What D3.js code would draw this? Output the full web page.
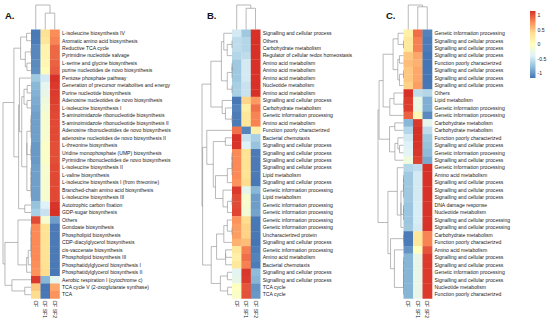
<!DOCTYPE html>
<html><head><meta charset="utf-8">
<script src="https://cdn.jsdelivr.net/npm/d3@7"></script>
<style>body{margin:0;background:#fff}svg{display:block}text{font-family:"Liberation Sans",Arial,sans-serif}</style>
</head><body><svg id="c" width="550" height="322"></svg>
<script>
const colNames = ["CF","CF SF1","CF SF2"];

const aLabels = ["L-isoleucine biosynthesis IV","Aromatic amino acid biosynthesis","Reductive TCA cycle","Pyrimidine nucleotide salvage","L-serine and glycine biosynthesis","purine nucleotides de novo biosynthesis","Pentose phosphate pathway","Generation of precursor metabolites and energy","Purine nucleotide biosynthesis","Adenosine nucleotides de novo biosynthesis","L-isoleucine biosynthesis I","5-aminoimidazole ribonucleotide biosynthesis","5-aminoimidazole ribonucleotide biosynthesis II","Adenosine ribonucleotides de novo biosynthesis","adenosine nucleotides de novo biosynthesis II","L-threonine biosynthesis","Uridine monophosphate (UMP) biosynthesis","Pyrimidine ribonucleotides de novo biosynthesis","L-isoleucine biosynthesis II","L-valine biosynthesis","L-isoleucine biosynthesis I (from threonine)","Branched-chain amino acid biosynthesis","L-isoleucine biosynthesis III","Autotrophic carbon fixation","GDP-sugar biosynthesis","Others","Gondoate biosynthesis","Phospholipid biosynthesis","CDP-diacylglycerol biosynthesis","cis-vaccenate biosynthesis","Phospholipid biosynthesis III","Phosphatidylglycerol biosynthesis I","Phosphatidylglycerol biosynthesis II","Aerobic respiration I (cytochrome c)","TCA cycle V (2-oxoglutarate synthase)","TCA"];
const aCF  = [-1.1,-1.1,-1.12,-1.12,-1.1,-1.08,-0.7,-0.78,-0.8,-0.85,-0.88,-0.95,-0.95,-0.95,-0.95,-1.0,-1.0,-1.0,-0.95,-0.95,-0.95,-0.95,-0.95,-0.75,-0.65,1.05,0.8,0.8,0.8,0.8,0.8,0.78,0.75,1.1,0.5,0.4];
const aSF1 = [0.35,0.3,0.15,0.15,0.1,0.05,-0.45,-0.3,-0.25,-0.2,-0.15,-0.1,-0.1,-0.1,-0.1,-0.05,-0.05,-0.05,-0.1,-0.1,-0.1,-0.1,-0.1,-0.4,-0.5,-0.1,0.35,0.35,0.35,0.35,0.35,0.37,0.4,-0.8,-1.15,-1.15];
const aSF2 = [0.75,0.8,0.97,0.97,1.0,1.03,1.15,1.1,1.1,1.1,1.1,1.1,1.1,1.1,1.1,1.1,1.1,1.1,1.1,1.1,1.1,1.1,1.1,1.15,1.15,-0.95,-1.15,-1.15,-1.15,-1.15,-1.15,-1.15,-1.15,-0.3,0.65,0.75];

const bLabels = ["Signalling and cellular process","Others","Carbohydrate metabolism","Regulator of cellular redox homeostasis","Amino acid metabolism","Amino acid metabolism","Amino acid metabolism","Nucleotide metabolism","Amino acid metabolism","Signalling and cellular process","Carbohydrate metabolism","Genetic information processing","Amino acid metabolism","Function poorly characterized","Bacterial chemotaxis","Signalling and cellular process","Signalling and cellular process","Signalling and cellular process","Signalling and cellular process","Lipid metabolism","Signalling and cellular process","Genetic information processing","Lipid metabolism","Genetic information processing","Genetic information processing","Genetic information processing","Genetic information processing","Uncharacterized protein","Signalling and cellular process","Genetic information processing","Amino acid metabolism","Bacterial chemotaxis","Signalling and cellular process","Signalling and cellular process","TCA cycle","TCA cycle"];
const bCF  = [-0.45,-0.55,-0.55,-0.6,-0.7,-0.7,-0.7,-0.65,-0.65,-1.05,-1.1,-1.1,-1.1,0.9,1.15,1.15,0.8,0.8,0.8,0.8,0.75,1.1,1.05,1.05,1.05,0.75,0.7,0.7,0.6,0.3,0.2,0.3,-0.35,-0.3,0.0,-0.05];
const bSF1 = [-0.7,-0.6,-0.6,-0.55,-0.45,-0.45,-0.45,-0.5,-0.5,0.4,0.2,0.3,0.3,-1.1,-0.5,-0.4,0.35,0.35,0.35,0.35,0.4,-0.3,-0.1,-0.1,-0.15,0.4,0.45,0.45,0.55,0.85,0.95,0.85,1.15,1.15,1.0,1.05];
const bSF2 = [1.15,1.15,1.15,1.15,1.15,1.15,1.15,1.15,1.15,0.65,0.9,0.8,0.8,0.2,-0.65,-0.75,-1.15,-1.15,-1.15,-1.15,-1.15,-0.8,-0.95,-0.95,-0.9,-1.15,-1.15,-1.15,-1.15,-1.15,-1.15,-1.15,-0.8,-0.85,-1.0,-1.0];

const cLabels = ["Genetic information processing","Signalling and cellular process","Signalling and cellular process","Signalling and cellular process","Function poorly characterized","Signalling and cellular process","Signalling and cellular process","Signalling and cellular process","Others","Lipid metabolism","Genetic information processing","Genetic information processing","Carbohydrate metabolism","Carbohydrate metabolism","Function poorly characterized","Signalling and cellular process","Genetic information processing","Signalling and cellular process","Genetic information processing","Amino acid metabolism","Signalling and cellular process","Signalling and cellular process","Signalling and cellular process","DNA damage response","Nucleotide metabolism","Signalling and cellular processing","Signalling and cellular processing","Carbohydrate metabolism","Function poorly characterized","Amino acid metabolism","Signalling and cellular process","Signalling and cellular process","Genetic information processing","Signalling and cellular process","Nucleotide metabolism","Function poorly characterized"];
const cCF  = [0.2,0.3,0.3,0.5,0.55,0.5,0.5,0.45,1.15,1.1,1.1,0.95,-0.8,-0.6,-0.45,-0.4,-0.35,-0.2,-0.6,-0.7,-0.7,-0.7,-0.7,-0.72,-0.72,-0.72,-0.7,-1.1,-1.1,-1.0,-0.85,-0.85,-0.85,-0.85,-0.85,-0.85];
const cSF1 = [0.95,0.85,0.85,0.65,0.6,0.65,0.65,0.7,-0.55,-0.25,-0.25,0.1,1.1,1.15,1.15,1.15,1.15,1.1,-0.55,-0.45,-0.45,-0.45,-0.45,-0.43,-0.43,-0.43,-0.45,0.3,0.3,0.0,-0.3,-0.3,-0.3,-0.3,-0.3,-0.3];
const cSF2 = [-1.15,-1.15,-1.15,-1.15,-1.15,-1.15,-1.15,-1.15,-0.6,-0.85,-0.85,-1.05,-0.3,-0.55,-0.7,-0.75,-0.8,-0.9,1.15,1.15,1.15,1.15,1.15,1.15,1.15,1.15,1.15,0.8,0.8,1.0,1.15,1.15,1.15,1.15,1.15,1.15];

const legendTicks = [1, 0.5, 0, -0.5, -1];

const panels = [
  {tag:"A.", labels:aLabels, cols:[aCF,aSF1,aSF2], tagX:5, heatX:31, cellW:9.5, rootX:3},
  {tag:"B.", labels:bLabels, cols:[bCF,bSF1,bSF2], tagX:207, heatX:232, cellW:9.4, rootX:202},
  {tag:"C.", labels:cLabels, cols:[cCF,cSF1,cSF2], tagX:386, heatX:403.5, cellW:9.5, rootX:378}
];
const topY = 29.5, rowH = 7.47, colTreeTop = 5;
const zmax = 2/Math.sqrt(3);

const svg = d3.select("#c");
const pal = d3.schemeRdYlBu[7].slice().reverse();
const color = d3.scaleLinear().domain(d3.range(7).map(i => -zmax + i*(2*zmax/6))).range(pal).interpolate(d3.interpolateRgb).clamp(true);

function zrow(r){ const m = d3.mean(r), s = d3.deviation(r); return r.map(v => (v-m)/s); }
function dist(a,b){ return Math.sqrt(d3.sum(a, (v,k) => (v-b[k])**2)); }
function linkage(A,B,vecs){ let m=0; for(const i of A) for(const j of B) m=Math.max(m, dist(vecs[i],vecs[j])); return m; }
// complete-linkage clustering, merging neighbouring clusters so the row order is kept
function cluster(vecs){
  let nodes = vecs.map((v,i) => ({leaf:i, members:[i], h:0}));
  while(nodes.length > 1){
    let bk=0, bd=Infinity;
    for(let k=0;k<nodes.length-1;k++){ const d = linkage(nodes[k].members, nodes[k+1].members, vecs); if(d<bd){bd=d;bk=k;} }
    const a=nodes[bk], b=nodes[bk+1];
    nodes.splice(bk,2,{children:[a,b], members:a.members.concat(b.members), h:bd});
  }
  return nodes[0];
}

panels.forEach(p => {
  const n = p.labels.length;
  const mat = d3.range(n).map(i => zrow(p.cols.map(c => c[i])));
  const g = svg.append("g");
  const x = d3.scaleBand().domain(colNames).range([p.heatX, p.heatX + 3*p.cellW]);
  const y = d3.scaleBand().domain(d3.range(n)).range([topY, topY + n*rowH]);

  mat.forEach((row,i) => row.forEach((v,j) => {
    g.append("rect").attr("x", x(colNames[j])).attr("y", y(i))
      .attr("width", x.bandwidth()+0.3).attr("height", y.bandwidth()+0.3)
      .attr("fill", color(v));
  }));

  g.selectAll("text.rl").data(p.labels).join("text")
    .attr("x", p.heatX + 3*p.cellW + 2.5).attr("y", (d,i) => y(i) + rowH/2 + 1.8)
    .attr("font-size", 5.1).attr("fill", "#1a1a1a").text(d => d);

  colNames.forEach(cn => {
    const cx = x(cn) + x.bandwidth()/2;
    g.append("text").attr("transform", `translate(${cx-1.8},${topY + n*rowH + 2}) rotate(90)`)
      .attr("font-size", 5.1).attr("fill", "#1a1a1a").text(cn);
  });

  g.append("text").attr("x", p.tagX).attr("y", 19).attr("font-size", 9.5).attr("font-weight", "bold").attr("fill","#111").text(p.tag);

  const root = d3.hierarchy(cluster(mat), d => d.children);
  const hx = d3.scalePow().exponent(0.5).domain([0, root.data.h]).range([p.heatX, p.rootX]);
  root.eachAfter(nd => { nd.yy = nd.children ? d3.mean(nd.children, c => c.yy) : y(nd.data.leaf) + rowH/2; });
  const paths = [];
  root.each(nd => {
    if(!nd.children) return;
    const [c1,c2] = nd.children;
    paths.push(`M${hx(c1.data.h)},${c1.yy}H${hx(nd.data.h)}V${c2.yy}H${hx(c2.data.h)}`);
  });
  g.selectAll("path.rd").data(paths).join("path").attr("d", d => d)
    .attr("fill","none").attr("stroke","#8c8c8c").attr("stroke-width",0.6);

  const cv = [0,1,2].map(j => mat.map(r => r[j]));
  const hSub = dist(cv[1], cv[2]);
  const hRoot = Math.max(dist(cv[0], cv[1]), dist(cv[0], cv[2]));
  const vy = d3.scaleLinear().domain([0, hRoot]).range([topY, colTreeTop]);
  const cx = colNames.map(cn => x(cn) + x.bandwidth()/2);
  const mid = (cx[1]+cx[2])/2;
  const cpaths = [
    `M${cx[1]},${vy(0)}V${vy(hSub)}H${cx[2]}V${vy(0)}`,
    `M${cx[0]},${vy(0)}V${vy(hRoot)}H${mid}V${vy(hSub)}`
  ];
  g.selectAll("path.cd").data(cpaths).join("path").attr("d", d => d)
    .attr("fill","none").attr("stroke","#8c8c8c").attr("stroke-width",0.6);
});

const ly = d3.scaleLinear().domain([-zmax, zmax]).range([78, 11]);
const defs = svg.append("defs");
const grad = defs.append("linearGradient").attr("id","lg").attr("x1",0).attr("y1",1).attr("x2",0).attr("y2",0);
pal.forEach((c,i) => grad.append("stop").attr("offset", i/6).attr("stop-color", c));
svg.append("rect").attr("x", 530).attr("y", ly(zmax)).attr("width", 5.5).attr("height", ly(-zmax)-ly(zmax)).attr("fill","url(#lg)");
svg.selectAll("text.lt").data(legendTicks).join("text")
  .attr("x", 537.5).attr("y", d => ly(d) + 1.8).attr("font-size", 5.1).attr("fill","#222").text(d => d);
</script></body></html>
